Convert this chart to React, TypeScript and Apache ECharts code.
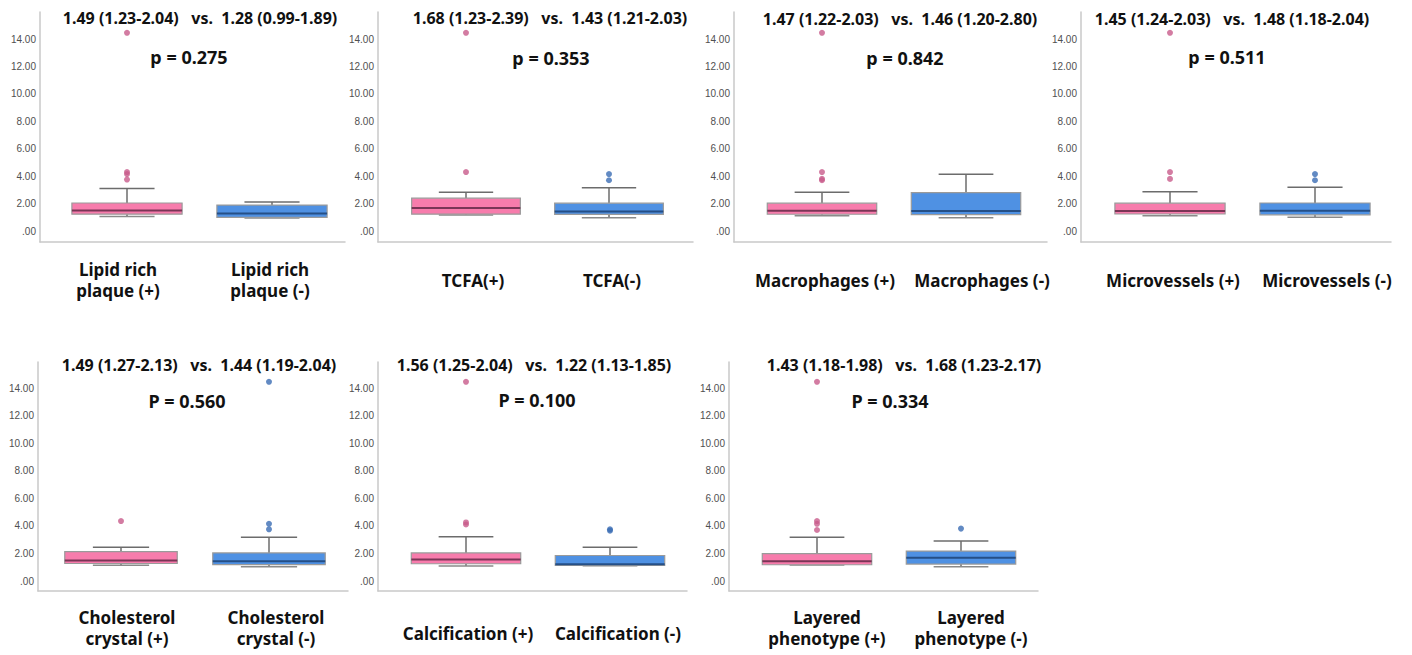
import React, { useEffect, useRef } from "react";
import * as echarts from "echarts";

// ---- data ----
// box stats per panel: [lower whisker, Q1, median, Q3, upper whisker]
const posStats = [
  [1.05, 1.23, 1.49, 2.04, 3.1],
  [1.17, 1.23, 1.68, 2.39, 2.82],
  [1.12, 1.22, 1.47, 2.03, 2.82],
  [1.12, 1.24, 1.45, 2.03, 2.87],
  [1.14, 1.27, 1.49, 2.13, 2.44],
  [1.09, 1.25, 1.56, 2.04, 3.21],
  [1.16, 1.18, 1.43, 1.98, 3.17],
];
const negStats = [
  [0.95, 0.99, 1.28, 1.89, 2.11],
  [0.97, 1.21, 1.43, 2.03, 3.16],
  [0.97, 1.2, 1.46, 2.8, 4.13],
  [1.0, 1.18, 1.48, 2.04, 3.19],
  [1.04, 1.19, 1.44, 2.04, 3.17],
  [1.1, 1.13, 1.22, 1.85, 2.44],
  [1.04, 1.23, 1.68, 2.17, 2.9],
];
const posOutliers = [
  [14.45, 4.3, 4.15, 3.75],
  [14.45, 4.3],
  [14.45, 4.3, 3.8, 3.7],
  [14.45, 4.3, 3.8],
  [4.35],
  [14.45, 4.25, 4.1],
  [14.45, 4.35, 4.15, 3.7],
];
const negOutliers = [
  [],
  [4.15, 3.7],
  [],
  [4.15, 3.7],
  [14.45, 4.15, 3.75],
  [3.75, 3.65],
  [3.8],
];
const pTexts = ["p = 0.275", "p = 0.353", "p = 0.842", "p = 0.511", "P = 0.560", "P = 0.100", "P = 0.334"];
const posLabels = ["Lipid rich\nplaque (+)", "TCFA(+)", "Macrophages (+)", "Microvessels (+)", "Cholesterol\ncrystal (+)", "Calcification (+)", "Layered\nphenotype (+)"];
const negLabels = ["Lipid rich\nplaque (-)", "TCFA(-)", "Macrophages (-)", "Microvessels (-)", "Cholesterol\ncrystal (-)", "Calcification (-)", "Layered\nphenotype (-)"];
const yTicksMax = 14;
const yTickStep = 2;

// ---- layout (pixels) ----
const layout = [
  { ax: 40, end: 345, top: 12, base: 242, y14: 39, y0: 231, c: [127, 272], t: [200, 18], p: [189, 57], l: [118, 270], ly: 280 },
  { ax: 378, end: 693, top: 12, base: 242, y14: 39, y0: 231, c: [466, 609], t: [550, 18], p: [551, 58], l: [473, 612], ly: 280 },
  { ax: 734, end: 1047, top: 12, base: 242, y14: 39, y0: 231, c: [822, 966], t: [900, 19], p: [905, 58], l: [825, 982], ly: 280 },
  { ax: 1081, end: 1391, top: 12, base: 242, y14: 39, y0: 231, c: [1170, 1315], t: [1232, 19], p: [1227, 57], l: [1173, 1327], ly: 280 },
  { ax: 38, end: 348, top: 362, base: 591, y14: 388, y0: 581, c: [121, 269], t: [199, 365], p: [187, 401], l: [127, 276], ly: 628 },
  { ax: 378, end: 687, top: 362, base: 591, y14: 388, y0: 581, c: [466, 610], t: [534, 365], p: [537, 400], l: [468, 618], ly: 633 },
  { ax: 729, end: 1038, top: 362, base: 591, y14: 388, y0: 581, c: [817, 961], t: [904, 365], p: [890, 401], l: [827, 971], ly: 628 },
];

const FILL = ["#f77cac", "#4f91e3"];
const MEDIAN = ["#7a3556", "#254f86"];
const DOT = ["#c85b8b", "#3b6db4"];
const FONT = "'Noto Sans', 'Open Sans', sans-serif";

const fmt = (v: number) => v.toFixed(2);
const summary = (s: number[]) => `${fmt(s[2])} (${fmt(s[1])}-${fmt(s[3])})`;

export default function App() {
  const ref = useRef<HTMLDivElement>(null);
  useEffect(() => {
    if (!ref.current) return;
    const chart = echarts.init(ref.current, undefined, { renderer: "svg" });
    const grid: any[] = [];
    const xAxis: any[] = [];
    const yAxis: any[] = [];
    const series: any[] = [];
    const graphic: any[] = [];

    layout.forEach((L, i) => {
      const d = L.c[1] - L.c[0];
      const bl = L.c[0] - d / 2;
      // frame grid (axis lines)
      grid.push({ left: L.ax, top: L.top, width: L.end - L.ax, height: L.base - L.top });
      xAxis.push({
        gridIndex: 2 * i, type: "value", min: 0, max: 1,
        axisLine: { show: true, lineStyle: { color: "#c9c9c9", width: 1.5 } },
        axisTick: { show: false }, axisLabel: { show: false }, splitLine: { show: false },
      });
      yAxis.push({
        gridIndex: 2 * i, type: "value", min: 0, max: 1,
        axisLine: { show: true, lineStyle: { color: "#c9c9c9", width: 1.5 } },
        axisTick: { show: false }, axisLabel: { show: false }, splitLine: { show: false },
      });
      // data grid
      grid.push({ left: bl, top: L.y14, width: 2 * d, height: L.y0 - L.y14 });
      xAxis.push({
        gridIndex: 2 * i + 1, type: "category", data: [posLabels[i], negLabels[i]],
        boundaryGap: true,
        axisLine: { show: false }, axisTick: { show: false }, axisLabel: { show: false },
      });
      yAxis.push({
        gridIndex: 2 * i + 1, type: "value", min: 0, max: yTicksMax, interval: yTickStep,
        offset: bl - L.ax,
        axisLine: { show: false }, axisTick: { show: false }, splitLine: { show: false },
        axisLabel: {
          margin: 4, color: "#505050", fontSize: 10, fontFamily: "'Liberation Sans', Arial, sans-serif",
          formatter: (v: number) => (v === 0 ? ".00" : v.toFixed(2)),
        },
      });
      series.push({
        type: "custom",
        xAxisIndex: 2 * i + 1, yAxisIndex: 2 * i + 1,
        data: [
          [0, ...posStats[i]],
          [1, ...negStats[i]],
        ],
        renderItem: (params: any, api: any) => {
          const k = api.value(0);
          const lo = api.coord([k, api.value(1)]);
          const q1 = api.coord([k, api.value(2)]);
          const md = api.coord([k, api.value(3)]);
          const q3 = api.coord([k, api.value(4)]);
          const hi = api.coord([k, api.value(5)]);
          const bw = api.size([1, 0])[0] * 0.76;
          const cx = lo[0];
          const cap = bw / 4;
          const ws = { stroke: "#6c6c6c", lineWidth: 1.5 };
          const ci = params.dataIndex;
          return {
            type: "group",
            children: [
              { type: "line", shape: { x1: cx, y1: hi[1], x2: cx, y2: q3[1] }, style: ws },
              { type: "line", shape: { x1: cx, y1: q1[1], x2: cx, y2: lo[1] }, style: ws },
              { type: "line", shape: { x1: cx - cap, y1: hi[1], x2: cx + cap, y2: hi[1] }, style: ws },
              { type: "line", shape: { x1: cx - cap, y1: lo[1], x2: cx + cap, y2: lo[1] }, style: { stroke: "#8a8a8a", lineWidth: 1.5 } },
              {
                type: "rect",
                shape: { x: cx - bw / 2, y: q3[1], width: bw, height: q1[1] - q3[1] },
                style: { fill: FILL[ci], stroke: "#9a9a9a", lineWidth: 1.2 },
              },
              { type: "line", shape: { x1: cx - bw / 2, y1: md[1], x2: cx + bw / 2, y2: md[1] }, style: { stroke: MEDIAN[ci], lineWidth: 2 } },
            ],
          };
        },
      });
      series.push({
        type: "scatter",
        xAxisIndex: 2 * i + 1, yAxisIndex: 2 * i + 1,
        clip: false,
        symbolSize: 6,
        data: [
          ...posOutliers[i].map((v) => ({ value: [0, v], itemStyle: { color: DOT[0] } })),
          ...negOutliers[i].map((v) => ({ value: [1, v], itemStyle: { color: DOT[1] } })),
        ],
      });
      // texts
      graphic.push({
        type: "text", x: L.t[0], y: L.t[1],
        style: {
          text: `${summary(posStats[i])}   vs.  ${summary(negStats[i])}`,
          textAlign: "center", textVerticalAlign: "middle",
          font: `bold 16px ${FONT}`, fill: "#111",
        },
      });
      graphic.push({
        type: "text", x: L.p[0], y: L.p[1],
        style: { text: pTexts[i], textAlign: "center", textVerticalAlign: "middle", font: `bold 18px ${FONT}`, fill: "#111" },
      });
      [posLabels[i], negLabels[i]].forEach((lab, j) => {
        graphic.push({
          type: "text", x: L.l[j], y: L.ly,
          style: {
            text: lab, textAlign: "center", textVerticalAlign: "middle",
            font: `bold 17px ${FONT}`, fill: "#111", lineHeight: 21,
          },
        });
      });
    });

    chart.setOption({
      animation: false,
      backgroundColor: "#ffffff",
      grid, xAxis, yAxis, series, graphic,
    });
    return () => chart.dispose();
  }, []);
  return <div ref={ref} style={{ position: "fixed", left: 0, top: 0, width: 1412, height: 655 }} />;
}
